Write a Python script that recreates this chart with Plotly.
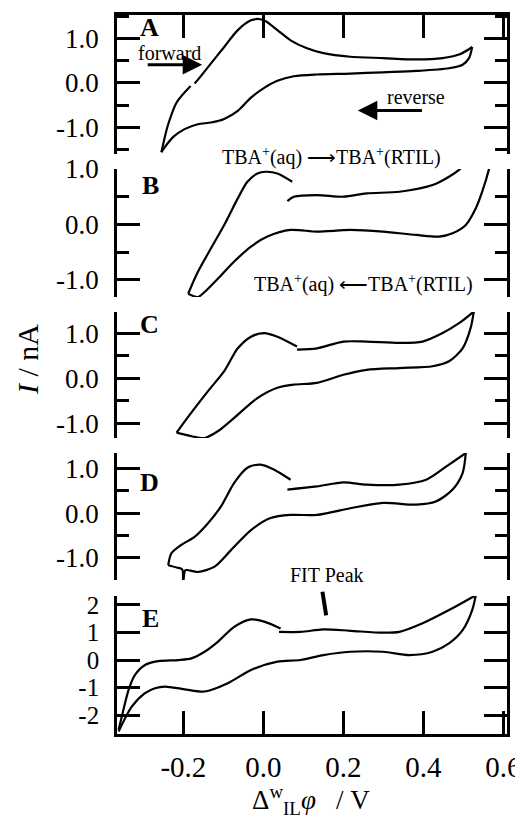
import plotly.graph_objects as go

# ---------------- data (potential / V, current / nA) ----------------
# Panel A
xA_fwd = [-0.255, -0.246, -0.238, -0.217, -0.182, None, -0.172, -0.164, -0.131, -0.098, -0.064, -0.031, -0.011, 0.006, 0.035, 0.068, 0.109, 0.150, 0.217, 0.299, 0.382, 0.448, 0.489, 0.514, 0.522]
yA_fwd = [-1.56, -1.20, -0.93, -0.44, -0.07, None, -0.01, 0.07, 0.44, 0.81, 1.19, 1.41, 1.44, 1.39, 1.19, 0.96, 0.78, 0.67, 0.59, 0.56, 0.53, 0.56, 0.64, 0.76, 0.81]
xA_rev = [0.522, 0.514, 0.498, 0.464, 0.382, 0.299, 0.217, 0.134, 0.076, 0.035, 0.002, -0.031, -0.064, -0.098, -0.131, -0.164, -0.197, -0.226, -0.246, -0.255]
yA_rev = [0.81, 0.56, 0.41, 0.33, 0.27, 0.24, 0.21, 0.19, 0.15, 0.05, -0.11, -0.33, -0.63, -0.81, -0.89, -0.93, -1.04, -1.22, -1.44, -1.56]

# Panel B
xB_fwd = [-0.188, -0.164, -0.131, -0.098, -0.064, -0.040, -0.015, 0.006, 0.035, 0.072, None, 0.060, 0.076, 0.134, 0.200, 0.258, 0.340, 0.423, 0.464, 0.493, 0.520, 0.550, 0.575]
yB_fwd = [-1.25, -0.86, -0.43, -0.01, 0.47, 0.77, 0.92, 0.95, 0.92, 0.77, None, 0.42, 0.50, 0.53, 0.50, 0.56, 0.59, 0.71, 0.86, 1.01, 1.25, 1.45, 1.60]
xB_rev = [0.575, 0.572, 0.564, 0.547, 0.531, 0.506, 0.473, 0.440, 0.382, 0.299, 0.217, 0.134, 0.068, 0.010, -0.031, -0.073, -0.114, -0.147, -0.164, -0.188]
yB_rev = [1.60, 1.30, 1.00, 0.59, 0.29, -0.01, -0.16, -0.22, -0.19, -0.13, -0.10, -0.13, -0.10, -0.22, -0.40, -0.67, -0.98, -1.22, -1.31, -1.25]

# Panel C
xC_fwd = [-0.217, -0.184, -0.139, -0.098, -0.064, -0.031, 0.002, 0.035, 0.084, None, 0.084, 0.134, 0.200, 0.258, 0.340, 0.398, 0.448, 0.489, 0.526]
yC_fwd = [-1.21, -0.81, -0.29, 0.16, 0.67, 0.93, 1.01, 0.93, 0.71, None, 0.64, 0.67, 0.82, 0.82, 0.79, 0.82, 1.01, 1.23, 1.49]
xC_rev = [0.526, 0.518, 0.498, 0.464, 0.423, 0.340, 0.258, 0.200, 0.134, 0.076, 0.035, -0.015, -0.073, -0.114, -0.147, -0.180, -0.217]
yC_rev = [1.49, 1.12, 0.67, 0.38, 0.27, 0.23, 0.19, 0.08, -0.10, -0.14, -0.21, -0.44, -0.88, -1.18, -1.33, -1.29, -1.21]

# Panel D
xD_fwd = [-0.238, -0.230, -0.205, -0.172, -0.139, -0.106, -0.073, -0.040, -0.007, 0.026, 0.068, None, 0.060, 0.134, 0.200, 0.258, 0.340, 0.407, 0.464, 0.506]
yD_fwd = [-1.17, -0.90, -0.71, -0.53, -0.23, 0.15, 0.68, 1.02, 1.09, 0.98, 0.75, None, 0.53, 0.60, 0.69, 0.64, 0.64, 0.75, 1.09, 1.35]
xD_rev = [0.506, 0.498, 0.473, 0.431, 0.382, 0.299, 0.217, 0.134, 0.068, 0.018, -0.031, -0.081, -0.122, -0.164, -0.195, -0.199, -0.201, -0.203, -0.217, -0.238]
yD_rev = [1.35, 0.90, 0.53, 0.26, 0.19, 0.23, 0.11, -0.04, -0.04, -0.11, -0.38, -0.83, -1.20, -1.32, -1.28, -1.45, -1.58, -1.26, -1.22, -1.17]

# Panel E
xE_fwd = [-0.362, -0.354, -0.337, -0.321, -0.296, -0.263, -0.213, -0.180, -0.147, -0.114, -0.073, -0.031, 0.002, 0.043, None, 0.039, 0.093, 0.150, 0.217, 0.299, 0.340, 0.398, 0.464, 0.531]
yE_fwd = [-2.53, -2.05, -1.08, -0.54, -0.18, -0.04, 0.00, 0.06, 0.30, 0.66, 1.20, 1.47, 1.39, 1.14, None, 1.02, 1.02, 1.11, 1.06, 0.99, 1.02, 1.33, 1.81, 2.35]
xE_rev = [0.531, 0.522, 0.498, 0.464, 0.423, 0.365, 0.299, 0.217, 0.150, 0.093, 0.035, -0.031, -0.089, -0.147, -0.197, -0.246, -0.271, -0.296, -0.329, -0.362]
yE_rev = [2.35, 1.81, 1.08, 0.60, 0.30, 0.18, 0.30, 0.30, 0.18, 0.00, -0.06, -0.36, -0.84, -1.14, -1.06, -0.96, -1.02, -1.20, -1.69, -2.59]

panel_letters = ["A", "B", "C", "D", "E"]
y_ranges = [[-1.6, 1.53], [-1.31, 1.0], [-1.33, 1.48], [-1.5, 1.35], [-2.68, 2.32]]
x_range = [-0.366, 0.609]
x_ticks = [-0.2, 0.0, 0.2, 0.4, 0.6]
x_ticktext = ["-0.2", "0.0", "0.2", "0.4", "0.6"]
y_ticks = [-1.0, 0.0, 1.0]
y_ticktext = ["-1.0", "0.0", "1.0"]
y_minor = [-1.5, -0.5, 0.5, 1.5]
yE_ticks = [-2, -1, 0, 1, 2]
yE_ticktext = ["-2", "-1", "0", "1", "2"]

series = [
    (xA_fwd, yA_fwd, xA_rev, yA_rev),
    (xB_fwd, yB_fwd, xB_rev, yB_rev),
    (xC_fwd, yC_fwd, xC_rev, yC_rev),
    (xD_fwd, yD_fwd, xD_rev, yD_rev),
    (xE_fwd, yE_fwd, xE_rev, yE_rev),
]

# ---------------- layout geometry (pixels, in window coordinates) ----------------
OFF = 8                      # default body margin of the page
WIN_W, WIN_H = 523, 827
PL, PR, PT, PB = 117, 507, 15, 734   # plot area edges in window pixels
ML, MT = PL - OFF, PT - OFF
MR = WIN_W - PR
MB = (WIN_H - OFF) - PB
W = ML + (PR - PL) + MR
H = MT + (PB - PT) + MB
plot_h = PB - PT
plot_w = PR - PL
panel_px = [(15, 154), (169, 297), (312, 438), (453, 580), (596, 734)]


def py2paper(py):
    return (PB - py) / plot_h


def px2paper(px):
    return (px - PL) / plot_w


FONT = "Liberation Serif, Times New Roman, serif"
LW = 2.6

fig = go.Figure()
for i, (xf, yf, xr, yr) in enumerate(series):
    sfx = "" if i == 0 else str(i + 1)
    for xx, yy in ((xf, yf), (xr, yr)):
        fig.add_trace(go.Scatter(
            x=xx, y=yy, mode="lines", xaxis="x" + sfx, yaxis="y" + sfx,
            line=dict(color="black", width=2.2, shape="spline", smoothing=0.8),
            connectgaps=False, showlegend=False, hoverinfo="skip"))

layout = dict(
    template="none",
    width=W, height=H, paper_bgcolor="white", plot_bgcolor="white",
    margin=dict(l=ML, r=MR, t=MT, b=MB, pad=0, autoexpand=False),
    font=dict(family=FONT, color="black"),
    showlegend=False,
)

for i in range(5):
    sfx = "" if i == 0 else str(i + 1)
    top, bot = panel_px[i]
    dom = [py2paper(bot), py2paper(top)]
    xa = dict(domain=[0, 1], range=x_range, anchor="y" + sfx, showgrid=False, zeroline=False,
              automargin=False, tickmode="array", tickvals=x_ticks, ticktext=x_ticktext)
    if i > 0:
        xa["matches"] = "x"
    if i == 0:
        xa.update(side="top", showline=True, linecolor="black", linewidth=LW, ticks="inside",
                  ticklen=23, tickwidth=LW, tickcolor="black", showticklabels=False)
    elif i == 4:
        xa.update(side="bottom", showline=True, linecolor="black", linewidth=LW, ticks="inside",
                  ticklen=23, tickwidth=LW, tickcolor="black", showticklabels=True,
                  tickfont=dict(size=29, family=FONT), ticklabelstandoff=5,
                  ticklabeloverflow="allow")
    else:
        xa.update(showline=False, ticks="", showticklabels=False)
    layout["xaxis" + sfx] = xa

    if i < 4:
        tv, tt, fs = y_ticks, y_ticktext, 27
        minor = dict(tickmode="array", tickvals=y_minor, ticks="inside", ticklen=12,
                     tickwidth=LW, tickcolor="black", showgrid=False)
    else:
        tv, tt, fs = yE_ticks, yE_ticktext, 25
        minor = None
    ya = dict(domain=dom, range=y_ranges[i], anchor="x" + sfx, showgrid=False, zeroline=False,
              automargin=False,
              showline=True, linecolor="black", linewidth=LW, mirror="ticks",
              ticks="inside", ticklen=23, tickwidth=LW, tickcolor="black",
              tickmode="array", tickvals=tv, ticktext=tt,
              tickfont=dict(size=fs, family=FONT), ticklabelstandoff=10)
    if minor:
        ya["minor"] = minor
    layout["yaxis" + sfx] = ya

fig.update_layout(**layout)

annotations = []


def label(text, px, py, size, **kw):
    d = dict(text=text, xref="paper", yref="paper", x=px2paper(px), y=py2paper(py),
             xanchor="center", yanchor="middle", showarrow=False,
             font=dict(size=size, family=FONT, color="black"))
    d.update(kw)
    annotations.append(d)


# panel letters
letter_pos = [(149, 28), (150, 185), (149, 324), (149, 482), (150, 618)]
for lab, (px, py) in zip(panel_letters, letter_pos):
    label("<b>%s</b>" % lab, px, py, 26)

label("forward", 169, 53, 20)
label("reverse", 416, 97, 20)
label("TBA<sup>+</sup>(aq) ⟶TBA<sup>+</sup>(RTIL)", 331, 157, 20)
label("TBA<sup>+</sup>(aq) ⟵TBA<sup>+</sup>(RTIL)", 363, 283, 20)
label("FIT Peak", 327, 575, 20)

# axis titles
label("<i>I</i> / nA", 27, 360, 30, textangle=-90)
label("Δ<sup>w</sup><sub>IL</sub><i>φ</i>   / V", 311, 800, 27)

# arrows in panel A
annotations.append(dict(text="", x=-0.153, y=0.41, ax=-0.293, ay=0.41, xref="x", yref="y",
                        axref="x", ayref="y", showarrow=True, arrowhead=2, arrowsize=1.3,
                        arrowwidth=3, arrowcolor="black", standoff=0))
annotations.append(dict(text="", x=0.236, y=-0.62, ax=0.40, ay=-0.62, xref="x", yref="y",
                        axref="x", ayref="y", showarrow=True, arrowhead=2, arrowsize=1.3,
                        arrowwidth=3, arrowcolor="black", standoff=0))
# FIT peak marker in panel E
annotations.append(dict(text="", x=0.157, y=1.62, ax=0.147, ay=2.53, xref="x5", yref="y5",
                        axref="x5", ayref="y5", showarrow=True, arrowhead=0,
                        arrowwidth=4, arrowcolor="black", standoff=0))

fig.update_layout(annotations=annotations)
fig.write_html("out.html")
